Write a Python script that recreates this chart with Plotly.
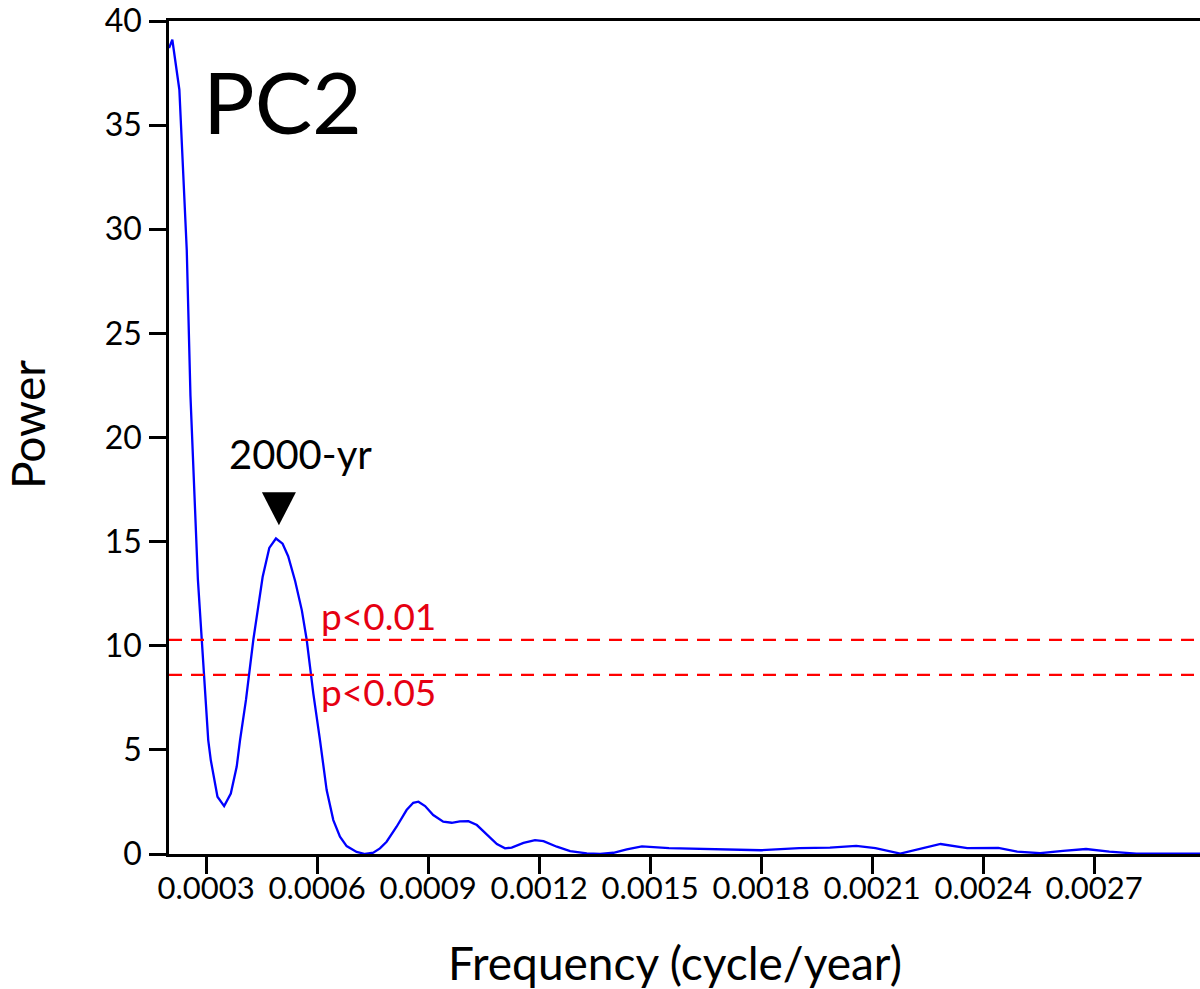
import plotly.graph_objects as go

# ---- data ----
freq = [0.000200, 0.000209, 0.000228, 0.000248, 0.000258, 0.000278, 0.000306, 0.000313,
        0.000331, 0.000349, 0.000367, 0.000383, 0.000392, 0.000408, 0.000428, 0.000453,
        0.000471, 0.000489, 0.000507, 0.000522, 0.000541, 0.000559, 0.000572, 0.000590,
        0.000608, 0.000626, 0.000644, 0.000662, 0.000680, 0.000707, 0.000730, 0.000752,
        0.000770, 0.000788, 0.000815, 0.000842, 0.000860, 0.000874, 0.000892, 0.000914,
        0.000941, 0.000964, 0.000986, 0.001009, 0.001032, 0.001059, 0.001086, 0.001108,
        0.001126, 0.001158, 0.001189, 0.001212, 0.001248, 0.001284, 0.001329, 0.001365,
        0.001401, 0.001437, 0.001478, 0.001551, 0.001676, 0.001800, 0.001903, 0.001986,
        0.002057, 0.002109, 0.002176, 0.002223, 0.002285, 0.002357, 0.002441, 0.002492,
        0.002554, 0.002616, 0.002678, 0.002741, 0.002814, 0.002986]
power = [38.7, 39.1, 36.7, 29.0, 22.0, 13.2, 5.47, 4.5,
         2.75, 2.3, 2.9, 4.2, 5.47, 7.4, 10.3, 13.3,
         14.7, 15.15, 14.9, 14.3, 13.1, 11.7, 10.3, 7.7,
         5.47, 3.07, 1.63, 0.83, 0.38, 0.10, 0.0, 0.06,
         0.27, 0.59, 1.31, 2.11, 2.46, 2.51, 2.30, 1.87,
         1.55, 1.50, 1.57, 1.58, 1.39, 0.91, 0.48, 0.27,
         0.31, 0.53, 0.67, 0.62, 0.35, 0.14, 0.03, 0.0,
         0.06, 0.22, 0.37, 0.28, 0.22, 0.18, 0.28, 0.31,
         0.39, 0.28, 0.02, 0.22, 0.48, 0.28, 0.29, 0.11,
         0.04, 0.15, 0.24, 0.11, 0.02, 0.02]

p01_level = 10.28
p05_level = 8.6
x_tickvals = [0.0003, 0.0006, 0.0009, 0.0012, 0.0015, 0.0018, 0.0021, 0.0024, 0.0027]
x_ticktext = ["0.0003", "0.0006", "0.0009", "0.0012", "0.0015", "0.0018", "0.0021", "0.0024", "0.0027"]
y_tickvals = [0, 5, 10, 15, 20, 25, 30, 35, 40]
peak_label = "2000-yr"
peak_freq = 0.000497
peak_marker_y = 16.6

FONT = "Lato"
RED_TXT = "#e60012"

fig = go.Figure()
fig.add_trace(go.Scatter(x=freq, y=power, mode="lines",
                         line=dict(color="#0000ff", width=2.3), showlegend=False,
                         hoverinfo="skip"))

for lvl in (p01_level, p05_level):
    fig.add_shape(type="line", xref="paper", x0=0, x1=1, yref="y", y0=lvl, y1=lvl,
                  line=dict(color="#ff0000", width=2.3, dash="13px,9px"))

# downward triangle marker above the peak
fig.add_shape(type="path", xref="x", yref="y", xsizemode="pixel", ysizemode="pixel",
              xanchor=peak_freq, yanchor=peak_marker_y,
              path="M-17,16 L17,16 L0,-17 Z", fillcolor="black", line=dict(width=0))

fig.add_annotation(x=0.000554, y=19.2, xref="x", yref="y", text=peak_label,
                   showarrow=False, font=dict(family=FONT, size=40, color="black"),
                   xanchor="center", yanchor="middle")
fig.add_annotation(x=0.000508, y=36.2, xref="x", yref="y", text="PC2",
                   showarrow=False, font=dict(family=FONT, size=86, color="black"),
                   xanchor="center", yanchor="middle")
fig.add_annotation(x=0.000606, y=11.45, xref="x", yref="y", text="p<0.01",
                   showarrow=False, font=dict(family=FONT, size=37, color=RED_TXT),
                   xanchor="left", yanchor="middle")
fig.add_annotation(x=0.000606, y=7.8, xref="x", yref="y", text="p<0.05",
                   showarrow=False, font=dict(family=FONT, size=37, color=RED_TXT),
                   xanchor="left", yanchor="middle")

fig.add_annotation(x=-0.1377, y=0.515, xref="paper", yref="paper", text="Power",
                   textangle=-90, showarrow=False,
                   font=dict(family=FONT, size=46, color="black"),
                   xanchor="center", yanchor="middle")
fig.add_annotation(x=0.491, y=-0.13, xref="paper", yref="paper",
                   text="Frequency (cycle/year)", showarrow=False,
                   font=dict(family=FONT, size=46, color="black"),
                   xanchor="center", yanchor="middle")

fig.update_xaxes(range=[0.0002, 0.002986], tickmode="array", tickvals=x_tickvals,
                 ticktext=x_ticktext, ticks="outside", ticklen=17, tickwidth=2.5,
                 tickcolor="black", showline=True, linecolor="black", linewidth=2.5,
                 mirror=True, showgrid=False, zeroline=False,
                 tickfont=dict(family=FONT, size=31, color="black"),
                 ticklabelstandoff=-12)
fig.update_yaxes(range=[0, 40], tickmode="array", tickvals=y_tickvals,
                 ticks="outside", ticklen=17, tickwidth=2.5, tickcolor="black",
                 showline=True, linecolor="black", linewidth=2.5, showgrid=False,
                 zeroline=False, tickfont=dict(family=FONT, size=32, color="black"),
                 ticklabelstandoff=1)

fig.update_layout(width=1200, height=989, margin=dict(l=169, r=0, t=21, b=135),
                  plot_bgcolor="white", paper_bgcolor="white", showlegend=False)

fig.write_html("out.html")
